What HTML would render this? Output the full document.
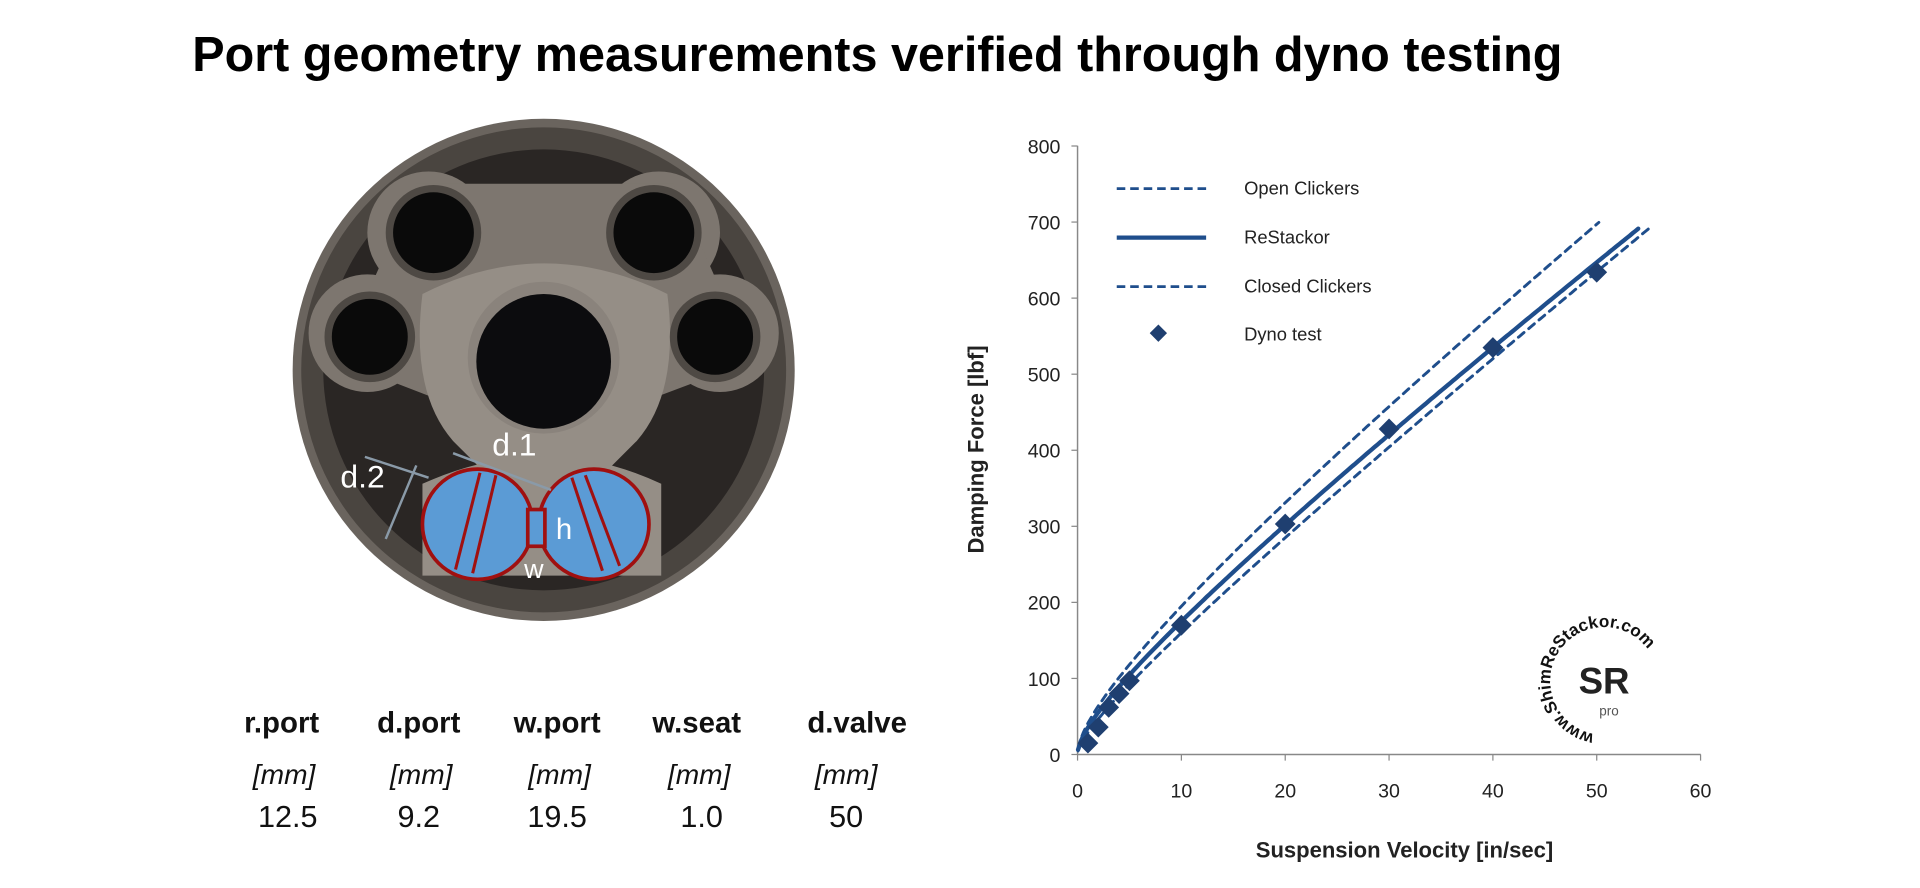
<!DOCTYPE html>
<html><head><meta charset="utf-8"><style>
html,body{margin:0;padding:0;background:#fff;width:1920px;height:888px;overflow:hidden}
svg{display:block}
text{font-family:"Liberation Sans",sans-serif}
</style></head><body>
<svg id="s" width="1920" height="888" viewBox="0 0 1568 725" preserveAspectRatio="none" xmlns="http://www.w3.org/2000/svg">
<text x="157" y="58" font-size="40" font-weight="bold" textLength="1119" lengthAdjust="spacingAndGlyphs" fill="#000">Port geometry measurements verified through dyno testing</text>

<!-- disc -->
<circle cx="444" cy="302" r="205" fill="#6a645e"/>
<circle cx="444" cy="302" r="198" fill="#4a4540"/>
<circle cx="444" cy="302" r="180" fill="#2a2624"/>
<g fill="#7d766f">
<circle cx="350" cy="190" r="50"/><circle cx="300" cy="272" r="48"/>
<circle cx="538" cy="190" r="50"/><circle cx="588" cy="272" r="48"/>
<path d="M300,240 L340,150 L550,150 L590,240 L600,300 L520,330 L368,330 L290,300Z"/>
</g>
<path d="M345,240 Q444,190 545,240 Q555,320 520,360 L480,400 L410,400 L370,360 Q335,320 345,240Z" fill="#958e86"/>
<circle cx="444" cy="292" r="62" fill="#8a837c"/>
<circle cx="444" cy="295" r="55" fill="#0c0c0e"/>
<g fill="#0a0a0a" stroke="#4e4944" stroke-width="6">
<circle cx="354" cy="190" r="36"/><circle cx="302" cy="275" r="34"/>
<circle cx="534" cy="190" r="36"/><circle cx="584" cy="275" r="34"/>
</g>
<path d="M345,395 Q444,350 540,395 L540,470 L345,470Z" fill="#958e86"/>
<g fill="#5b9bd5" stroke="#a01010" stroke-width="3">
<circle cx="390" cy="428" r="45"/><circle cx="485" cy="428" r="45"/>
<rect x="431" y="416" width="14" height="30"/>
</g>
<g stroke="#a01010" stroke-width="2.5">
<line x1="392" y1="386" x2="372" y2="465"/><line x1="405" y1="388" x2="386" y2="468"/>
<line x1="467" y1="390" x2="492" y2="466"/><line x1="478" y1="388" x2="506" y2="462"/>
</g>
<g stroke="#8a9aa8" stroke-width="2">
<line x1="370" y1="370" x2="450" y2="400"/><line x1="298" y1="373" x2="350" y2="390"/><line x1="340" y1="380" x2="315" y2="440"/>
</g>
<g fill="#fff" font-size="26">
<text x="402" y="372">d.1</text><text x="278" y="398">d.2</text>
<text x="454" y="440" font-size="24">h</text><text x="428" y="472" font-size="22">w</text>
</g>

<!-- table -->
<g font-size="24" font-weight="bold" text-anchor="middle" fill="#111">
<text x="230" y="598">r.port</text><text x="342" y="598">d.port</text><text x="455" y="598">w.port</text><text x="569" y="598">w.seat</text><text x="700" y="598">d.valve</text>
</g>
<g font-size="23" font-style="italic" text-anchor="middle" fill="#111">
<text x="232" y="640">[mm]</text><text x="344" y="640">[mm]</text><text x="457" y="640">[mm]</text><text x="571" y="640">[mm]</text><text x="691" y="640">[mm]</text>
</g>
<g font-size="25" text-anchor="middle" fill="#111">
<text x="235" y="675">12.5</text><text x="342" y="675">9.2</text><text x="455" y="675">19.5</text><text x="573" y="675">1.0</text><text x="691" y="675">50</text>
</g>

<!-- chart -->
<g stroke="#888" stroke-width="1.2">
<line x1="880" y1="119" x2="880" y2="616"/><line x1="880" y1="616" x2="1389" y2="616"/>
</g>
<g id="ticks" font-size="16" fill="#222"></g>
<text x="1147" y="700" font-size="18" font-weight="bold" text-anchor="middle" fill="#222">Suspension Velocity [in/sec]</text>
<text transform="translate(803,367) rotate(-90)" font-size="18" font-weight="bold" text-anchor="middle" fill="#222">Damping Force [lbf]</text>
<g id="curves" fill="none" stroke="#1f4e8c" stroke-linecap="round"></g>
<g fill="#1f3f70" id="pts"></g>
<g stroke="#1f4e8c" stroke-width="2.2">
<line x1="912" y1="154" x2="985" y2="154" stroke-dasharray="7,4"/>
<line x1="912" y1="194" x2="985" y2="194" stroke-width="3.5"/>
<line x1="912" y1="234" x2="985" y2="234" stroke-dasharray="7,4"/>
</g>
<rect x="941" y="267" width="10" height="10" fill="#1f3f70" transform="rotate(45 946 272)"/>
<g font-size="15" fill="#222">
<text x="1016" y="159">Open Clickers</text><text x="1016" y="199">ReStackor</text><text x="1016" y="239">Closed Clickers</text><text x="1016" y="278">Dyno test</text>
</g>
<!-- watermark -->
<text x="1310" y="566" font-size="30" font-weight="bold" text-anchor="middle" fill="#222">SR</text>
<text x="1314" y="584" font-size="11" text-anchor="middle" fill="#555">pro</text>
<path id="arc" d="M1310,600 A44,44 0 1,1 1310.1,600" fill="none"/>
<text font-size="14" font-weight="bold" fill="#111"><textPath href="#arc" startOffset="8">www.ShimReStackor.com</textPath></text>
</svg>
<script>
function X(v){return 880+v*8.48}function Y(f){return 616-f*0.621}
var t=document.getElementById("ticks"),h="";
for(var f=0;f<=800;f+=100){h+='<text x="866" y="'+(Y(f)+6)+'" text-anchor="end">'+f+'</text><line x1="875" y1="'+Y(f)+'" x2="880" y2="'+Y(f)+'" stroke="#888"/>';}
for(var v=0;v<=60;v+=10){h+='<text x="'+X(v)+'" y="651" text-anchor="middle">'+v+'</text><line x1="'+X(v)+'" y1="616" x2="'+X(v)+'" y2="621" stroke="#888"/>';}
t.innerHTML=h;
function curve(a,b,vmax,dash,w){var d="";for(var i=0;i<=200;i++){var v=0.05+(vmax-0.05)*i/200;d+=(i?"L":"M")+X(v).toFixed(1)+","+Y(a*v+b*Math.sqrt(v)).toFixed(1);}
return '<path d="'+d+'" stroke-width="'+w+'"'+(dash?' stroke-dasharray="6,5"':'')+'/>';}
document.getElementById("curves").innerHTML=curve(9.46,31.7,50.2,1,2.4)+curve(9.25,26.1,54,0,3.5)+curve(10.02,18.9,55.3,1,2.4);
var P=[[1,15],[2,36],[3,62],[4,80],[5,97],[10,170],[20,303],[30,428],[40,535],[50,634]],s="";
P.forEach(function(q){var x=X(q[0]),y=Y(q[1]);s+='<rect x="'+(x-6)+'" y="'+(y-6)+'" width="12" height="12" transform="rotate(45 '+x+' '+y+')"/>';});
document.getElementById("pts").innerHTML=s;
</script>
</body></html>
